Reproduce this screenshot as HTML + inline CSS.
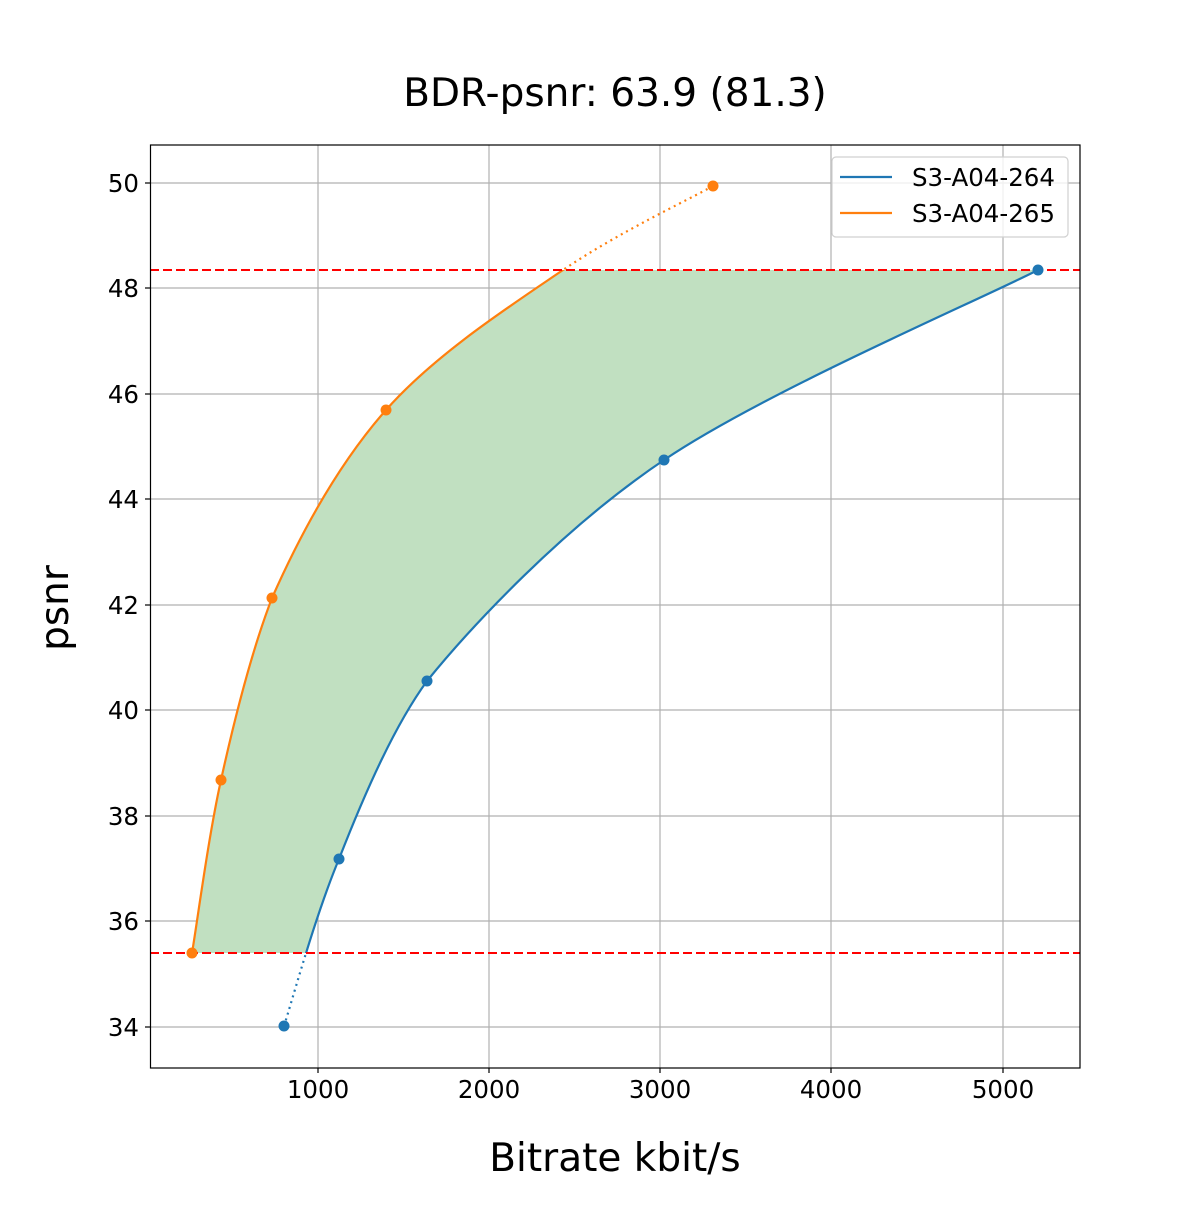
<!DOCTYPE html>
<html><head><style>
body{margin:0;background:#fff}
svg text{font-family:"DejaVu Sans","Liberation Sans",sans-serif;fill:#000}
</style></head><body>
<svg width="1200" height="1200" viewBox="0 0 1200 1200" xmlns="http://www.w3.org/2000/svg">
<defs>
<clipPath id="band"><rect x="150" y="270" width="930" height="683"/></clipPath>
<clipPath id="above"><rect x="150" y="145" width="930" height="125"/></clipPath>
<clipPath id="below270"><rect x="150" y="270" width="930" height="800"/></clipPath>
<clipPath id="above953"><rect x="150" y="145" width="930" height="808"/></clipPath>
<clipPath id="below953"><rect x="150" y="953" width="930" height="115"/></clipPath>
</defs>
<rect width="1200" height="1200" fill="#fff"/>
<g stroke="#b0b0b0" stroke-width="1.2">
<line x1="318" y1="145" x2="318" y2="1068"/><line x1="489" y1="145" x2="489" y2="1068"/>
<line x1="660" y1="145" x2="660" y2="1068"/><line x1="831" y1="145" x2="831" y2="1068"/>
<line x1="1003" y1="145" x2="1003" y2="1068"/>
<line x1="150" y1="183" x2="1080" y2="183"/><line x1="150" y1="288" x2="1080" y2="288"/>
<line x1="150" y1="394" x2="1080" y2="394"/><line x1="150" y1="499" x2="1080" y2="499"/>
<line x1="150" y1="605" x2="1080" y2="605"/><line x1="150" y1="710" x2="1080" y2="710"/>
<line x1="150" y1="816" x2="1080" y2="816"/><line x1="150" y1="921" x2="1080" y2="921"/>
<line x1="150" y1="1027" x2="1080" y2="1027"/>
</g>
<path clip-path="url(#band)" fill="#c1e0c1" d="M192,953 C197,924 208,839 221,780 C236,712 252,650 272,598 C299.5,536 337.5,465 386,410 C434.5,355 508.5,307 563,270 C617.5,233 688,200 713,186 L1100,186 L1100,270 L1038,270 C975.7,301.7 765.8,391.5 664,460 C562,528.5 470,628 427,681 C395,725 366,790 339,859 C315,916.5 293,998 284,1026 Z"/>
<g fill="none" stroke-width="2.2">
<path clip-path="url(#below270)" stroke="#ff7f0e" d="M192,953 C197,924 208,839 221,780 C236,712 252,650 272,598 C299.5,536 337.5,465 386,410 C434.5,355 508.5,307 563,270 C617.5,233 688,200 713,186"/>
<path clip-path="url(#above)" stroke="#ff7f0e" stroke-dasharray="2,4" d="M386,410 C434.5,355 508.5,307 563,270 C617.5,233 688,200 713,186"/>
<path clip-path="url(#above953)" stroke="#1f77b4" d="M284,1026 C293,998 315,916.5 339,859 C366,790 395,725 427,681 C470,628 562,528.5 664,460 C765.8,391.5 975.7,301.7 1038,270"/>
<path clip-path="url(#below953)" stroke="#1f77b4" stroke-dasharray="2,4" d="M284,1026 C293,998 315,916.5 339,859"/>
</g>
<g stroke="#ff0000" stroke-width="2" stroke-dasharray="9,4">
<line x1="150" y1="270" x2="1080" y2="270"/><line x1="150" y1="953" x2="1080" y2="953"/>
</g>
<g fill="#1f77b4"><circle cx="284" cy="1026" r="5.5"/><circle cx="339" cy="859" r="5.5"/><circle cx="427" cy="681" r="5.5"/><circle cx="664" cy="460" r="5.5"/><circle cx="1038" cy="270" r="5.5"/></g>
<g fill="#ff7f0e"><circle cx="192" cy="953" r="5.5"/><circle cx="221" cy="780" r="5.5"/><circle cx="272" cy="598" r="5.5"/><circle cx="386" cy="410" r="5.5"/><circle cx="713" cy="186" r="5.5"/></g>
<rect x="150.5" y="145" width="929.5" height="923" fill="none" stroke="#000" stroke-width="1.2"/>
<g stroke="#000" stroke-width="1.2">
<line x1="318" y1="1068" x2="318" y2="1073"/><line x1="489" y1="1068" x2="489" y2="1073"/><line x1="660" y1="1068" x2="660" y2="1073"/><line x1="831" y1="1068" x2="831" y2="1073"/><line x1="1003" y1="1068" x2="1003" y2="1073"/>
<line x1="145" y1="183" x2="150" y2="183"/><line x1="145" y1="288" x2="150" y2="288"/><line x1="145" y1="394" x2="150" y2="394"/><line x1="145" y1="499" x2="150" y2="499"/><line x1="145" y1="605" x2="150" y2="605"/><line x1="145" y1="710" x2="150" y2="710"/><line x1="145" y1="816" x2="150" y2="816"/><line x1="145" y1="921" x2="150" y2="921"/><line x1="145" y1="1027" x2="150" y2="1027"/>
</g>
<g font-size="24.5" text-anchor="middle">
<text x="318" y="1098">1000</text><text x="489" y="1098">2000</text><text x="660" y="1098">3000</text><text x="831" y="1098">4000</text><text x="1003" y="1098">5000</text>
</g>
<g font-size="24.5" text-anchor="end">
<text x="139" y="192">50</text><text x="139" y="297">48</text><text x="139" y="403">46</text><text x="139" y="508">44</text><text x="139" y="614">42</text><text x="139" y="719">40</text><text x="139" y="825">38</text><text x="139" y="930">36</text><text x="139" y="1036">34</text>
</g>
<rect x="832" y="157" width="236" height="80" rx="4" fill="#fff" fill-opacity="0.8" stroke="#d0d0d0" stroke-width="1.2"/>
<line x1="840" y1="177" x2="892" y2="177" stroke="#1f77b4" stroke-width="2.2"/>
<line x1="840" y1="213" x2="892" y2="213" stroke="#ff7f0e" stroke-width="2.2"/>
<text x="912" y="186" font-size="24.5">S3-A04-264</text>
<text x="912" y="222" font-size="24.5">S3-A04-265</text>
<text x="615" y="106" font-size="39" text-anchor="middle">BDR-psnr: 63.9 (81.3)</text>
<text x="615" y="1171" font-size="39" text-anchor="middle">Bitrate kbit/s</text>
<text transform="translate(68,608) rotate(-90)" font-size="39" text-anchor="middle">psnr</text>
</svg>
</body></html>
